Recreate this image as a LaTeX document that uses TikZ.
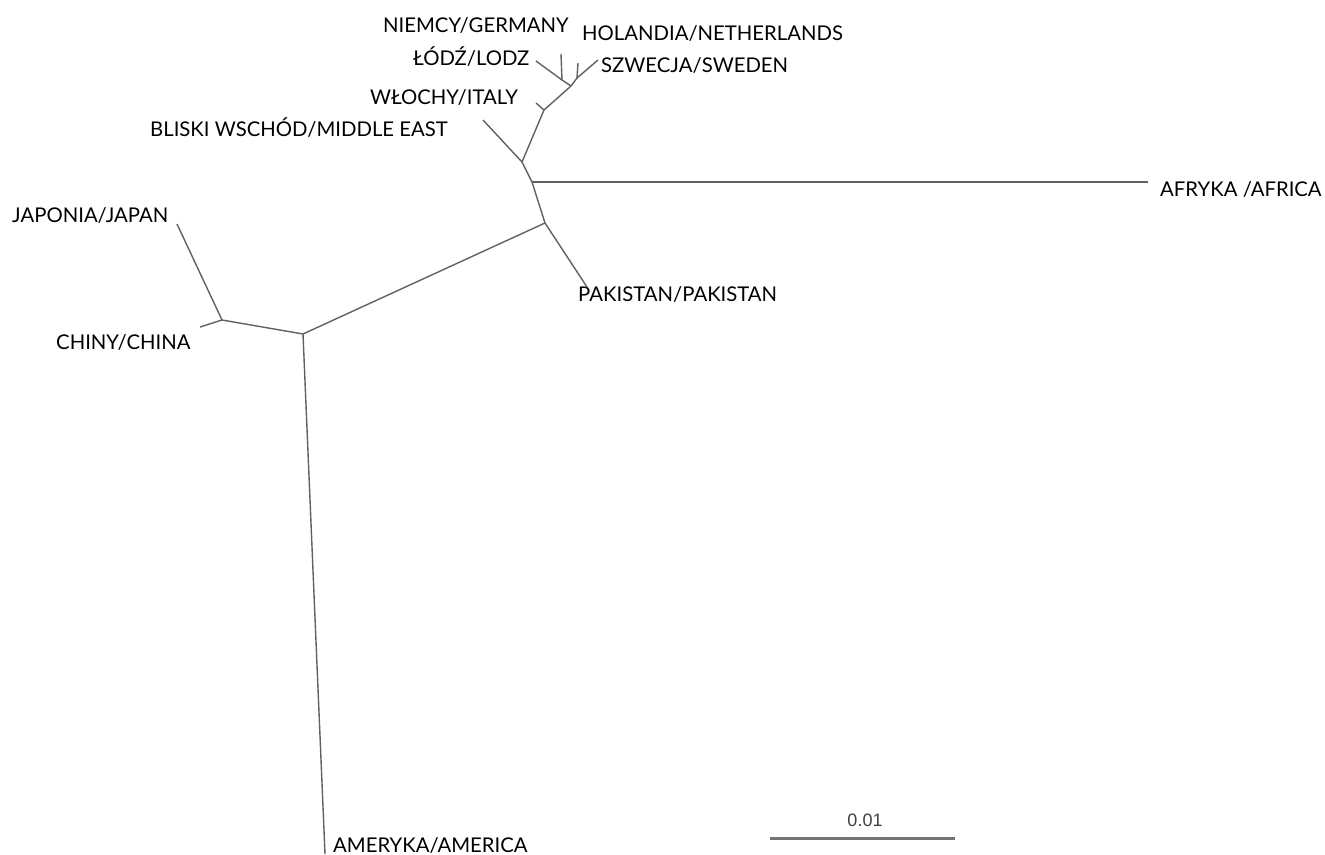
\documentclass[tikz,border=0pt]{standalone}
\usepackage{fontspec}
\setmainfont{Lato}
\newfontfamily\scalefont{Liberation Sans}
\usetikzlibrary{positioning}
\newcommand\leaffont{\fontsize{20.3}{21}\selectfont\spaceskip=0.26em\relax}

\begin{document}
\begin{tikzpicture}[
  x=1pt, y=-1pt,
  branch/.style={draw=black!62, line width=1.4pt},
  leaf/.style={inner sep=0pt, font=\leaffont},
  scalebar/.style={draw=black!55, line width=3pt},
  scalelabel/.style={inner sep=0pt, text=black!75, font=\scalefont\fontsize{18}{19}\selectfont}
]
\useasboundingbox (0,0) rectangle (1325,854);

% Inner nodes
\coordinate (c1) at (571,86);
\coordinate (c2) at (562,80);
\coordinate (c3) at (577,78);
\coordinate (it) at (544,110);
\coordinate (me) at (522,162);
\coordinate (af) at (532,182);
\coordinate (pk) at (545,223);
\coordinate (as) at (303,334);
\coordinate (cj) at (222,320);

% Leaves
\coordinate (lodz) at (536,61);
\coordinate (ger) at (561,54);
\coordinate (ned) at (578,63);
\coordinate (swe) at (598,60);
\coordinate (ita) at (536,103);
\coordinate (mid) at (483,120);
\coordinate (afr) at (1148,182);
\coordinate (pak) at (587,287);
\coordinate (jap) at (177,224);
\coordinate (chi) at (200,327);
\coordinate (ame) at (325,854);

% Labels
\node[leaf, anchor=base west] (lger) at (383,32) {NIEMCY/GERMANY};
\node[leaf, anchor=base west] (lned) at (582,40) {HOLANDIA/NETHERLANDS};
\node[leaf, anchor=base west] (llodz) at (413,65) {ŁÓDŹ/LODZ};
\node[leaf, anchor=base west] (lswe) at (601,72) {SZWECJA/SWEDEN};
\node[leaf, anchor=base west] (lita) at (370,104) {WŁOCHY/ITALY};
\node[leaf, anchor=base west] (lmid) at (150,136) {BLISKI WSCHÓD/MIDDLE EAST};
\node[leaf, anchor=base west] (lafr) at (1160,196) {AFRYKA /AFRICA};
\node[leaf, anchor=base west] (ljap) at (12,222) {JAPONIA/JAPAN};
\node[leaf, anchor=base west] (lpak) at (578,301) {PAKISTAN/PAKISTAN};
\node[leaf, anchor=base west] (lchi) at (56,349) {CHINY/CHINA};
\node[leaf, anchor=base west] (lame) at (333,852) {AMERYKA/AMERICA};

% Branches
\draw[branch] (c2) -- (lodz);
\draw[branch] (c2) -- (ger);
\draw[branch] (c3) -- (ned);
\draw[branch] (c3) -- (swe);
\draw[branch] (c1) -- (c2);
\draw[branch] (c1) -- (c3);
\draw[branch] (it) -- (c1);
\draw[branch] (it) -- (ita);
\draw[branch] (me) -- (it);
\draw[branch] (me) -- (mid);
\draw[branch] (me) -- (af);
\draw[branch] (af) -- (afr);
\draw[branch] (af) -- (pk);
\draw[branch] (pk) -- (pak);
\draw[branch] (pk) -- (as);
\draw[branch] (as) -- (cj);
\draw[branch] (cj) -- (jap);
\draw[branch] (cj) -- (chi);
\draw[branch] (as) -- (ame);

% Scale bar
\coordinate (sb1) at (770,838);
\coordinate (sb2) at (955,838);
\draw[scalebar] (sb1) -- (sb2);
\node[scalelabel, anchor=base] (sbl) at (865,826) {0.01};
\end{tikzpicture}
\end{document}
